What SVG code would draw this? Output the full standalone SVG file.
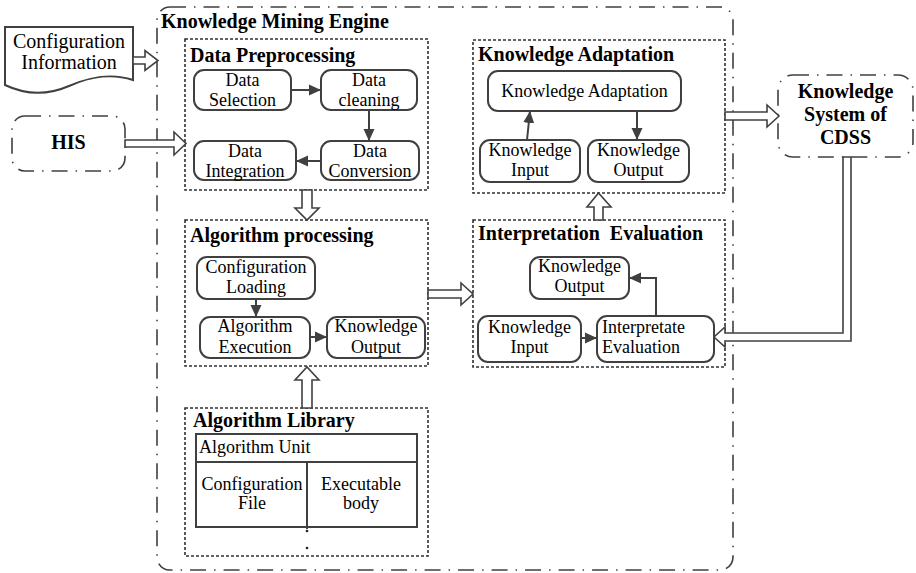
<svg xmlns="http://www.w3.org/2000/svg" width="916" height="573" viewBox="0 0 916 573">
  <defs>
    <marker id="head" markerUnits="userSpaceOnUse" markerWidth="12" markerHeight="12" refX="12" refY="6" orient="auto">
      <path d="M0,0.5 L12,6 L0,11.5 Z" fill="#404040"/>
    </marker>
  </defs>
  <style>
    text { font-family: "Liberation Serif", "Times New Roman", serif; fill: #000; }
    .t { font-size: 18px; }
    .c { text-anchor: middle; }
    .b { font-size: 20px; font-weight: bold; }
    .pre { white-space: pre; }
    .doc { font-size: 20px; }
    .node { fill: #fff; stroke: #404040; stroke-width: 2; }
    .panel { fill: none; stroke: #303030; stroke-width: 1.6; stroke-dasharray: 3 2; }
    .dashdot { fill: none; stroke: #404040; stroke-width: 1.6; stroke-dasharray: 16 8 1.5 8; }
    .line { fill: none; stroke: #404040; stroke-width: 2; marker-end: url(#head); }
    .hollow { fill: #fff; stroke: #404040; stroke-width: 1.6; stroke-linejoin: miter; }
    .grid { fill: none; stroke: #404040; stroke-width: 2; }
  </style>

  <!-- outer engine frame -->
  <g id="engine">
    <rect class="dashdot" x="157" y="7" width="576" height="563" rx="13"/>
    <text class="b" x="161" y="28">Knowledge Mining Engine</text>
  </g>

  <!-- external sources -->
  <g id="config-info">
    <path d="M5,27 H133 V80 C112,73 92,76 69,86 C46,96 24,94 5,85 Z" fill="#fff" stroke="#404040" stroke-width="2"/>
    <text class="doc c" x="69" y="47.5">Configuration</text>
    <text class="doc c" x="69" y="69">Information</text>
  </g>
  <g id="his">
    <rect class="dashdot" x="12" y="116" width="113" height="55" rx="13"/>
    <text class="b c" x="68.5" y="149">HIS</text>
  </g>
  <g id="cdss">
    <rect class="dashdot" x="778" y="75" width="135" height="82" rx="15"/>
    <text class="b c" x="845.5" y="98">Knowledge</text>
    <text class="b c" x="845.5" y="121">System of</text>
    <text class="b c" x="845.5" y="144">CDSS</text>
  </g>

  <!-- data preprocessing -->
  <g id="data-preprocessing">
    <rect class="panel" x="185" y="39" width="243" height="151"/>
    <text class="b" x="190" y="62">Data Preprocessing</text>
  </g>
  <g id="data-selection">
    <rect class="node" x="194" y="70" width="97" height="40" rx="10"/>
    <text class="t c" x="242.5" y="86">Data</text>
    <text class="t c" x="242.5" y="106">Selection</text>
  </g>
  <g id="data-cleaning">
    <rect class="node" x="321" y="70" width="96" height="40" rx="10"/>
    <text class="t c" x="369" y="86">Data</text>
    <text class="t c" x="369" y="106">cleaning</text>
  </g>
  <g id="data-integration">
    <rect class="node" x="194" y="141" width="102" height="39" rx="10"/>
    <text class="t c" x="245" y="157">Data</text>
    <text class="t c" x="245" y="177">Integration</text>
  </g>
  <g id="data-conversion">
    <rect class="node" x="321" y="141" width="98" height="39" rx="10"/>
    <text class="t c" x="370" y="157">Data</text>
    <text class="t c" x="370" y="177">Conversion</text>
  </g>

  <!-- algorithm processing -->
  <g id="algorithm-processing">
    <rect class="panel" x="185" y="220" width="243" height="146"/>
    <text class="b" x="190" y="242">Algorithm processing</text>
  </g>
  <g id="configuration-loading">
    <rect class="node" x="197" y="257" width="118" height="42" rx="10"/>
    <text class="t c" x="256" y="273">Configuration</text>
    <text class="t c" x="256" y="293">Loading</text>
  </g>
  <g id="algorithm-execution">
    <rect class="node" x="200" y="317" width="110" height="41" rx="10"/>
    <text class="t c" x="255" y="332">Algorithm</text>
    <text class="t c" x="255" y="353">Execution</text>
  </g>
  <g id="ap-knowledge-output">
    <rect class="node" x="327" y="317" width="98" height="41" rx="10"/>
    <text class="t c" x="376" y="332">Knowledge</text>
    <text class="t c" x="376" y="353">Output</text>
  </g>

  <!-- algorithm library -->
  <g id="algorithm-library">
    <rect class="panel" x="185" y="408" width="243" height="148"/>
    <text class="b" x="193" y="427">Algorithm Library</text>
    <rect class="grid" x="196" y="434" width="221" height="93"/>
    <line class="grid" x1="196" y1="462" x2="417" y2="462"/>
    <line class="grid" x1="307" y1="462" x2="307" y2="529"/>
    <text class="t" x="199" y="453">Algorithm Unit</text>
    <text class="t c" x="252" y="490">Configuration</text>
    <text class="t c" x="252" y="509">File</text>
    <text class="t c" x="361" y="490">Executable</text>
    <text class="t c" x="361" y="509">body</text>
    <circle cx="307" cy="531" r="1.3" fill="#202020"/>
    <circle cx="307" cy="548" r="1.3" fill="#202020"/>
  </g>

  <!-- knowledge adaptation -->
  <g id="knowledge-adaptation">
    <rect class="panel" x="473" y="40" width="252" height="153"/>
    <text class="b" x="478" y="61">Knowledge Adaptation</text>
  </g>
  <g id="adaptation-step">
    <rect class="node" x="488" y="71" width="193" height="40" rx="10"/>
    <text class="t c" x="584.5" y="97">Knowledge Adaptation</text>
  </g>
  <g id="ka-knowledge-input">
    <rect class="node" x="480" y="140" width="100" height="42" rx="10"/>
    <text class="t c" x="530" y="156">Knowledge</text>
    <text class="t c" x="530" y="176">Input</text>
  </g>
  <g id="ka-knowledge-output">
    <rect class="node" x="588" y="140" width="101" height="42" rx="10"/>
    <text class="t c" x="638.5" y="156">Knowledge</text>
    <text class="t c" x="638.5" y="176">Output</text>
  </g>

  <!-- interpretation evaluation -->
  <g id="interpretation-evaluation">
    <rect class="panel" x="473" y="220" width="252" height="147"/>
    <text class="b pre" x="478" y="240" xml:space="preserve">Interpretation  Evaluation</text>
  </g>
  <g id="ie-knowledge-output">
    <rect class="node" x="530" y="257" width="99" height="42" rx="10"/>
    <text class="t c" x="579.5" y="272">Knowledge</text>
    <text class="t c" x="579.5" y="292">Output</text>
  </g>
  <g id="ie-knowledge-input">
    <rect class="node" x="478" y="316" width="103" height="46" rx="10"/>
    <text class="t c" x="529.5" y="333">Knowledge</text>
    <text class="t c" x="529.5" y="353">Input</text>
  </g>
  <g id="interpretate-evaluation">
    <rect class="node" x="597" y="316" width="117" height="46" rx="10"/>
    <text class="t" x="602" y="333">Interpretate</text>
    <text class="t" x="602" y="353">Evaluation</text>
  </g>

  <!-- connectors -->
  <g id="connectors">
    <line class="line" x1="291" y1="90" x2="321" y2="90"/>
    <line class="line" x1="369" y1="110" x2="369" y2="141"/>
    <line class="line" x1="321" y1="161" x2="296" y2="161"/>
    <line class="line" x1="256" y1="299" x2="256" y2="317"/>
    <line class="line" x1="310" y1="337" x2="327" y2="337"/>
    <line class="line" x1="527" y1="140" x2="530" y2="111"/>
    <line class="line" x1="637" y1="111" x2="637" y2="140"/>
    <line class="line" x1="581" y1="338" x2="597" y2="338"/>
    <polyline class="line" points="656,316 656,278 629,278"/>

    <!-- block arrows -->
    <polygon class="hollow" points="133,57 145,57 145,50.5 158,60.5 145,70.5 145,64 133,64"/>
    <polygon class="hollow" points="125,140 174,140 174,132 186,143.5 174,155 174,147 125,147"/>
    <polygon class="hollow" points="302,190 312,190 312,208 319,208 307,220 295,208 302,208"/>
    <polygon class="hollow" points="302,408 312,408 312,380 319,380 307,367 295,380 302,380"/>
    <polygon class="hollow" points="428,290 461,290 461,283 473,294 461,305 461,298 428,298"/>
    <polygon class="hollow" points="594,220 603,220 603,207 611,207 598.5,193 587,207 594,207"/>
    <polygon class="hollow" points="725,112 767,112 767,105 779,116 767,127 767,120 725,120"/>
    <polygon class="hollow" points="843,157 851,157 851,341 725,341 725,347 714,337 725,327 725,333 843,333"/>
  </g>
</svg>
